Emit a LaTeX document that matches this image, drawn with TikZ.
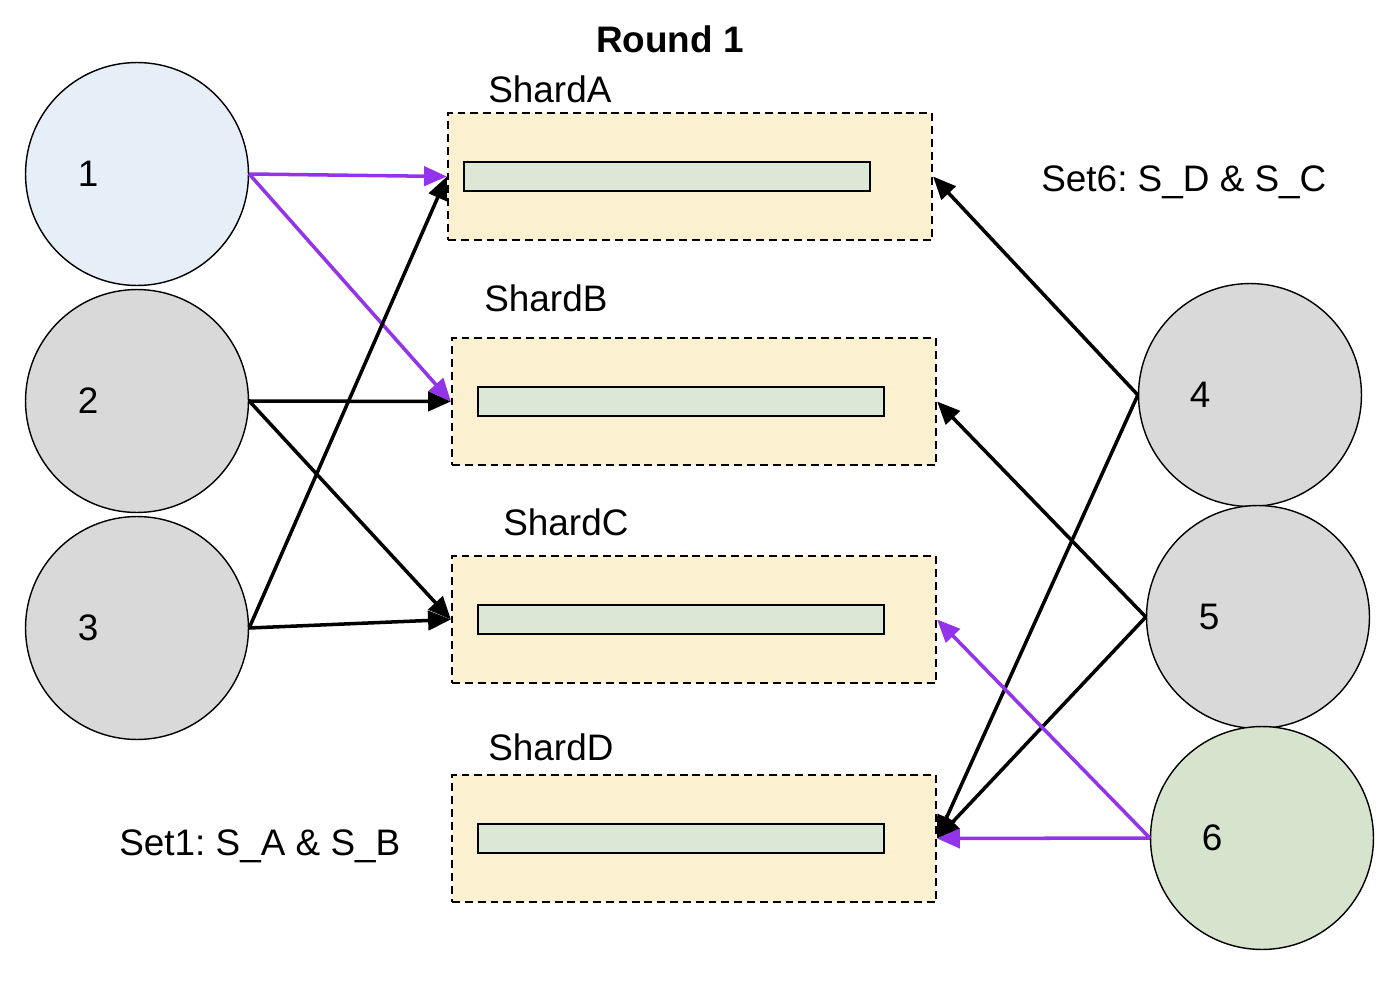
\documentclass[tikz,border=0pt]{standalone}
\usepackage{fontspec}
\setmainfont{Liberation Sans}
\usetikzlibrary{positioning, arrows.meta}
\definecolor{leaderblue}{HTML}{E6EEF8}
\definecolor{peergray}{HTML}{D9D9D9}
\definecolor{peergreen}{HTML}{D6E4CD}
\definecolor{shardfill}{HTML}{FBF1D0}
\definecolor{barfill}{HTML}{DCE8D6}
\definecolor{votepurple}{HTML}{9333EA}
\frenchspacing

\begin{document}
\begin{tikzpicture}[x=0.02cm, y=-0.02cm, font=\fontsize{21}{25}\selectfont]
    % Block styles
    \tikzstyle{peer} = [circle, draw, line width=0.8pt, minimum size=4.46cm, inner sep=0pt]
    \tikzstyle{shard} = [rectangle, draw, dash pattern=on 4.5pt off 2.8pt, line width=1.3pt, fill=shardfill, minimum width=9.68cm, minimum height=2.54cm]
    \tikzstyle{bar} = [rectangle, draw, line width=1.2pt, fill=barfill, minimum width=8.12cm, minimum height=0.58cm]
    \tikzstyle{link} = [-{Triangle[length=13pt,width=11pt]}, line width=2pt]
    \tikzstyle{vote} = [link, color=votepurple]
    \useasboundingbox (0,0) rectangle (1400,1004);

    % Title
    \node[font=\fontsize{21}{25}\selectfont\bfseries, anchor=base] (title) at (670,52) {Round 1};

    % Peers on the left
    \node[peer, fill=leaderblue, label={[xshift=-0.98cm]center:1}] (p1) at (137,174) {};
    \node[peer, fill=peergray, label={[xshift=-0.98cm]center:2}] (p2) at (137,401) {};
    \node[peer, fill=peergray, label={[xshift=-0.98cm]center:3}] (p3) at (137,628) {};
    % Peers on the right
    \node[peer, fill=peergray, label={[xshift=-1.0cm]center:4}] (p4) at (1250,395) {};
    \node[peer, fill=peergray, label={[xshift=-0.98cm]center:5}] (p5) at (1258,617) {};
    \node[peer, fill=peergreen, label={[xshift=-1.0cm]center:6}] (p6) at (1262,838) {};

    % Shards
    \node[shard] (shA) at (690,176.5) {};
    \node[shard] (shB) at (694,401.5) {};
    \node[shard] (shC) at (694,619.5) {};
    \node[shard] (shD) at (694,838.5) {};
    \node[bar, right=0.32cm of shA.west] (barA) {};
    \node[bar, right=0.52cm of shB.west] (barB) {};
    \node[bar, right=0.52cm of shC.west] (barC) {};
    \node[bar, right=0.52cm of shD.west] (barD) {};
    \node[anchor=base west, inner sep=0pt] (tagA) at (488,102) {ShardA};
    \node[anchor=base west, inner sep=0pt] (tagB) at (484,311) {ShardB};
    \node[anchor=base west, inner sep=0pt] (tagC) at (503,535) {ShardC};
    \node[anchor=base west, inner sep=0pt] (tagD) at (488,760) {ShardD};

    % Sets
    \node[anchor=base west, inner sep=0pt] (set6) at (1041,191) {Set6: S\_D \& S\_C};
    \node[anchor=base west, inner sep=0pt] (set1) at (119,855) {Set1: S\_A \& S\_B};

    % Connections
    \draw[vote] (p1.east) -- (shA.west);
    \draw[vote] (p1.east) -- (shB.west);
    \draw[link] (p2.east) -- (shB.west);
    \draw[link] (p2.east) -- (shC.west);
    \draw[link] (p3.east) -- (shA.west);
    \draw[link] (p3.east) -- (shC.west);
    \draw[link] (p4.west) -- (shA.east);
    \draw[link] (p4.west) -- (shD.east);
    \draw[link] (p5.west) -- (shB.east);
    \draw[link] (p5.west) -- (shD.east);
    \draw[vote] (p6.west) -- (shC.east);
    \draw[vote] (p6.west) -- (shD.east);
\end{tikzpicture}
\end{document}
